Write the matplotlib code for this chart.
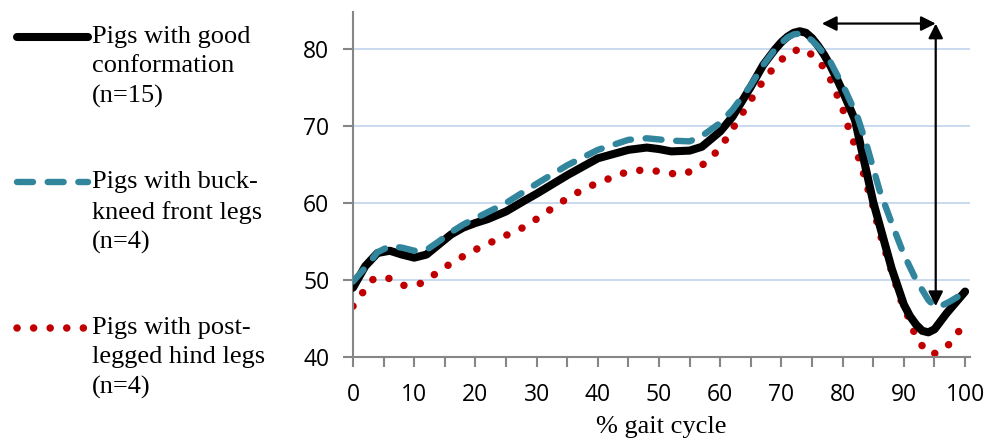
import numpy as np
import matplotlib
matplotlib.use("Agg")
import matplotlib.pyplot as plt
from matplotlib.lines import Line2D

# % gait cycle vs angle
good_x = [0, 2, 4, 6, 8, 10, 12, 14, 16, 18, 20, 22, 25, 28, 30, 35, 40, 45, 48,
          50, 52, 55, 57, 60, 62, 65, 67, 69, 70, 71, 72, 73, 74, 75, 76, 77, 78,
          79, 80, 82, 85, 88, 90, 91, 92, 93, 94, 95, 97, 100]
good_y = [49.0, 51.8, 53.5, 53.8, 53.3, 52.9, 53.3, 54.6, 55.9, 56.8, 57.4, 57.9,
          58.9, 60.3, 61.2, 63.6, 65.8, 66.9, 67.2, 67.0, 66.7, 66.8, 67.3, 69.3,
          71.2, 75.1, 77.9, 80.0, 80.9, 81.6, 82.1, 82.3, 82.1, 81.4, 80.4, 79.2,
          77.8, 76.2, 74.5, 70.8, 60.1, 51.5, 46.8, 45.3, 44.2, 43.4, 43.2, 43.6,
          45.7, 48.5]

buck_x = [0, 2, 4, 6, 8, 10, 12, 14, 16, 18, 20, 25, 30, 35, 40, 45, 48, 52, 55,
          57, 60, 62, 65, 67, 69, 70, 71, 72, 73, 74, 75, 76, 78, 80.5, 82.5, 84,
          86, 88, 90, 92, 94, 95, 96, 97.5, 100]
buck_y = [49.8, 51.6, 53.6, 54.4, 54.2, 53.8, 53.9, 55.0, 56.2, 57.2, 58.0, 60.0,
          62.5, 64.9, 66.9, 68.2, 68.4, 68.1, 68.0, 68.7, 70.4, 72.1, 75.3, 77.9,
          80.0, 80.8, 81.5, 81.9, 82.0, 81.7, 81.1, 80.3, 78.3, 74.5, 71.0, 67.3,
          61.7, 57.4, 53.3, 50.0, 47.4, 46.6, 46.6, 47.2, 48.4]

post_x = [0, 1.8, 3.4, 5.9, 8.3, 10.9, 13.1, 15.3, 17.6, 19.9, 22.3, 24.7, 27.1,
          29.4, 31.6, 33.8, 36.1, 38.4, 40.8, 43.3, 45.9, 48.5, 51.1, 53.7, 56.2,
          58.3, 60.1, 61.6, 63.0, 64.4, 65.8, 67.3, 69.0, 70.9, 73.2, 75.5, 77.1,
          78.3, 79.3, 80.3, 81.0, 81.9, 82.7, 83.5, 84.2, 85.0, 85.6, 86.3, 87.1,
          87.9, 88.7, 89.5, 90.5, 91.5, 92.8, 94.6, 96.9, 98.7, 100]
post_y = [46.6, 48.6, 50.2, 50.2, 49.3, 49.5, 50.6, 51.8, 52.9, 53.9, 54.8, 55.7,
          56.5, 57.6, 58.8, 60.0, 61.1, 62.1, 62.8, 63.7, 64.2, 64.3, 63.9, 63.7,
          64.4, 65.7, 67.3, 69.1, 70.9, 72.6, 74.4, 76.2, 77.8, 79.3, 80.1, 79.0,
          77.4, 75.6, 73.6, 71.6, 69.6, 67.7, 65.6, 63.6, 61.6, 59.5, 57.5, 55.5,
          53.4, 51.4, 49.4, 47.4, 45.6, 43.5, 41.6, 40.3, 41.2, 43.0, 44.6]

labels = ["Pigs with good\nconformation\n(n=15)",
          "Pigs with buck-\nkneed front legs\n(n=4)",
          "Pigs with post-\nlegged hind legs\n(n=4)"]

# arrow annotation: swing-phase span and angle drop
arrow_x = [76.6, 95.2]
arrow_y = [83.3, 46.6]

BLACK = "#000000"
TEAL = "#31859C"
RED = "#C00000"
GRID = "#C5D7EE"
AXIS = "#868686"
SERIF = "Liberation Serif"

fig = plt.figure(figsize=(9.9, 4.44), dpi=100)
ax = fig.add_axes([353 / 990, 87 / 444, 617 / 990, 345 / 444])

styles = [
    dict(color=BLACK, lw=5.8, ls="-", solid_capstyle="round", solid_joinstyle="round"),
    dict(color=TEAL, lw=4.6, ls=(0, (2.5, 2.3)), dash_capstyle="round"),
    dict(color=RED, lw=5.4, ls=(0, (0.01, 2.2)), dash_capstyle="round"),
]

ax.plot(good_x, good_y, zorder=3, **styles[0])
ax.plot(buck_x, buck_y, zorder=4, **styles[1])
ax.plot(post_x, post_y, zorder=2, **styles[2])

# arrows
ax.annotate("", xy=(arrow_x[0], arrow_y[0]), xytext=(arrow_x[1], arrow_y[0]),
            arrowprops=dict(arrowstyle="<|-|>", color="black", lw=1.6,
                            mutation_scale=22, shrinkA=0, shrinkB=0), zorder=5)
ax.annotate("", xy=(arrow_x[1], arrow_y[0]), xytext=(arrow_x[1], arrow_y[1]),
            arrowprops=dict(arrowstyle="<|-|>", color="black", lw=1.6,
                            mutation_scale=22, shrinkA=0, shrinkB=0), zorder=5)

ax.set_xlim(0, 100.8)
ax.set_ylim(40, 84.8)

ax.set_yticks([40, 50, 60, 70, 80])
ax.set_xticks(np.arange(0, 101, 5))
ax.set_xticklabels([str(v) if v % 10 == 0 else "" for v in range(0, 101, 5)])
ax.yaxis.grid(True, color=GRID, lw=1.3)
ax.set_axisbelow(True)

for s in ["top", "right"]:
    ax.spines[s].set_visible(False)
for s in ["left", "bottom"]:
    ax.spines[s].set_color(AXIS)
    ax.spines[s].set_linewidth(1.5)

ax.tick_params(axis="both", colors=AXIS, width=1.5, length=7,
               labelcolor="black", labelsize=16.5)
ax.tick_params(axis="x", pad=12)
ax.tick_params(axis="y", pad=10)
for t in ax.get_xticklabels() + ax.get_yticklabels():
    t.set_fontfamily("Open Sans")

ax.set_xlabel("% gait cycle", fontfamily=SERIF, fontsize=19, labelpad=6)

# legend on the left, drawn by hand so the sample sits on the first text line
leg_y = [37, 182, 328]
for lab, y, st in zip(labels, leg_y, styles):
    fy = 1 - y / 444
    fig.add_artist(Line2D([17 / 990, 88 / 990], [fy, fy], transform=fig.transFigure, **st))
    fig.text(92 / 990, 1 - (y - 11) / 444, lab, fontfamily=SERIF, fontsize=19,
             va="top", ha="left", linespacing=1.42)

fig.savefig("out.png", dpi=100)
